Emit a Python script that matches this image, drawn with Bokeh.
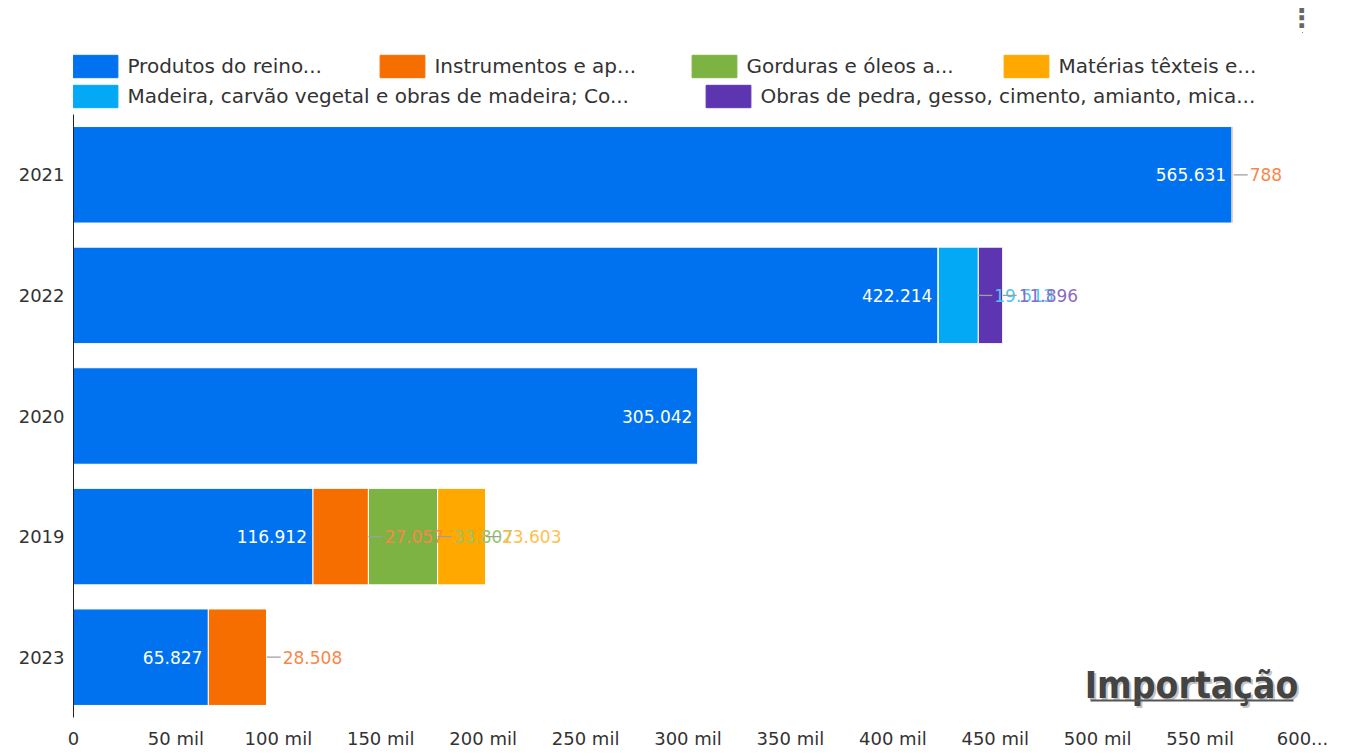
from bokeh.plotting import figure
from bokeh.layouts import column
from bokeh.models import (ColumnDataSource, FactorRange, Range1d, Legend, LegendItem, Label,
                          FixedTicker, BoxAnnotation)
from bokeh.core.properties import value
from bokeh.embed import file_html
from bokeh.resources import INLINE

# ---- data ----
years = ["2021", "2022", "2020", "2019", "2023"]          # top to bottom
series_names = [
    "Produtos do reino...",
    "Instrumentos e ap...",
    "Gorduras e óleos a...",
    "Matérias têxteis e...",
    "Madeira, carvão vegetal e obras de madeira; Co...",
    "Obras de pedra, gesso, cimento, amianto, mica...",
]
produtos     = [565631, 422214, 305042, 116912, 65827]
instrumentos = [788,    0,      0,      27057,  28508]
gorduras     = [0,      0,      0,      33807,  0]
materias     = [0,      0,      0,      23603,  0]
madeira      = [0,      19513,  0,      0,      0]
obras        = [0,      11896,  0,      0,      0]
series_values = [produtos, instrumentos, gorduras, materias, madeira, obras]

x_ticks = [0, 50000, 100000, 150000, 200000, 250000, 300000, 350000,
           400000, 450000, 500000, 550000, 600000]
x_tick_labels = ["0", "50 mil", "100 mil", "150 mil", "200 mil", "250 mil", "300 mil",
                 "350 mil", "400 mil", "450 mil", "500 mil", "550 mil", "600..."]

colors = ["#0072f0", "#f66d00", "#7cb342", "#ffa800", "#03a9f4", "#5e35b1"]
label_colors = ["#ffffff", "#f8884a", "#99c46b", "#ffbf4d", "#4fc3f7", "#8a6cc4"]

FONT = "DejaVu Sans"
TXT = "#333333"
W = 1340
TOP_H = 114
LEFT, RIGHT = 73, 38

# ---- legend strip ----
lf = figure(width=W, height=TOP_H, output_backend="svg", toolbar_location=None,
            x_range=Range1d(0, 1), y_range=Range1d(0, 1), x_axis_type=None, y_axis_type=None,
            min_border_left=LEFT, min_border_right=RIGHT, min_border_top=0,
            min_border_bottom=0)
lf.outline_line_color = None
lf.grid.grid_line_color = None
lf.title.text = "⋮"
lf.title.align = "right"
lf.title.offset = -12
lf.title.standoff = 0
lf.title.text_font = "DejaVu Sans"
lf.title.text_font_style = "bold"
lf.title.text_font_size = "26px"
lf.title.text_color = "#666666"
legend_pos = [(-5.6, 34.2), (301.4, 34.2), (613.4, 34.2), (925.4, 34.2),
              (-5.6, 4.2), (627.4, 4.2)]
for name, c, (lx, ly) in zip(series_names, colors, legend_pos):
    # legend proxy, kept outside the visible range of this strip
    r = lf.hbar(y=[5], left=[5], right=[6], height=0.1, fill_color=c, line_color=c)
    lf.add_layout(Legend(items=[LegendItem(label=name, renderers=[r])],
                         location=(lx, ly), orientation="horizontal",
                         glyph_width=56, glyph_height=28, label_standoff=4,
                         padding=0, margin=0, border_line_color=None,
                         background_fill_alpha=0, label_text_font=FONT,
                         label_text_font_size="20px", label_text_color=TXT,
                         label_height=28))

# ---- main chart ----
keys = ["s%d" % i for i in range(len(series_names))]
data = {"year": years}
for k, v in zip(keys, series_values):
    data[k] = v
source = ColumnDataSource(data)

p = figure(width=W, height=640, output_backend="svg", toolbar_location=None,
           y_range=FactorRange(factors=list(reversed(years))),
           x_range=(0, 600000),
           min_border_left=LEFT, min_border_right=RIGHT, min_border_top=0,
           min_border_bottom=37)
p.outline_line_color = None
p.grid.grid_line_color = None

p.hbar_stack(keys, y="year", height=0.8, color=colors, source=source,
             line_color="white", line_width=1)

# ---- value labels ----
for i, (k, vals) in enumerate(zip(keys, series_values)):
    ends, ys, texts = [], [], []
    for j, y in enumerate(years):
        v = vals[j]
        if v <= 0:
            continue
        end = sum(series_values[m][j] for m in range(i + 1))
        ends.append(end)
        ys.append(y)
        texts.append(f"{v:,}".replace(",", "."))
    lsrc = ColumnDataSource(dict(x=ends, y=ys, t=texts))
    if i == 0:
        p.text(x="x", y="y", text="t", source=lsrc, text_align="right", text_baseline="middle",
               x_offset=-6, text_color="white", text_font=value(FONT), text_font_size="17px")
    else:
        p.ray(x="x", y="y", length=14, length_units="screen", angle=0, source=lsrc,
              line_color="#9e9e9e", line_width=1.3)
        p.text(x="x", y="y", text="t", source=lsrc, text_align="left", text_baseline="middle",
               x_offset=16, text_color=label_colors[i], text_font=value(FONT),
               text_font_size="17px")

# ---- axes ----
p.xaxis.ticker = FixedTicker(ticks=x_ticks)
p.xaxis.major_label_overrides = {t: l for t, l in zip(x_ticks, x_tick_labels)}
p.xaxis.axis_line_color = None
p.xaxis.major_tick_line_color = None
p.xaxis.minor_tick_line_color = None
p.xaxis.major_tick_out = 0
p.xaxis.major_tick_in = 0
p.xaxis.major_label_standoff = 10
p.yaxis.axis_line_color = "#222222"
p.yaxis.major_tick_line_color = None
p.yaxis.minor_tick_line_color = None
p.yaxis.major_tick_out = 0
p.yaxis.major_tick_in = 0
p.yaxis.major_label_standoff = 9
for ax in (p.xaxis, p.yaxis):
    ax.major_label_text_font = FONT
    ax.major_label_text_font_size = "18px"
    ax.major_label_text_color = TXT

# ---- "Importação" stamp ----
TFONT = "DejaVu Sans Condensed, Liberation Sans Narrow, sans-serif"
p.add_layout(Label(x=1120, y=30, x_units="screen", y_units="screen", text="Importação",
                   text_font=TFONT, text_font_style="bold",
                   text_font_size="37px", text_color="#c4c4c4", text_align="center",
                   text_baseline="alphabetic"))
p.add_layout(Label(x=1118, y=32, x_units="screen", y_units="screen", text="Importação",
                   text_font=TFONT, text_font_style="bold",
                   text_font_size="37px", text_color="#444444", text_align="center",
                   text_baseline="alphabetic"))
p.add_layout(BoxAnnotation(left=1017, right=1220, bottom=16, top=18,
                           left_units="screen", right_units="screen",
                           bottom_units="screen", top_units="screen",
                           fill_color="#555555", fill_alpha=1, line_color=None))

layout = column(lf, p, spacing=0)
open("out.html", "w").write(file_html(layout, INLINE))
